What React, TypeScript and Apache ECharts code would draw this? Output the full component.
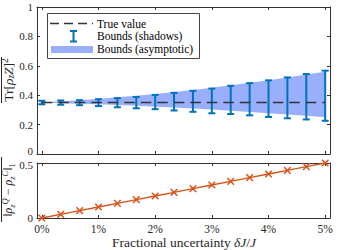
import React, { useEffect, useRef } from "react";
import * as echarts from "echarts";

// ---- data ----
const uncertaintyPct = [0, 0.333, 0.667, 1, 1.333, 1.667, 2, 2.333, 2.667, 3, 3.333, 3.667, 4, 4.333, 4.667, 5];
const trueValue = 0.35;
const shadowUpper = [0.362, 0.364, 0.366, 0.373, 0.38, 0.388, 0.402, 0.416, 0.43, 0.445, 0.464, 0.482, 0.501, 0.521, 0.544, 0.567];
const shadowLower = [0.338, 0.335, 0.332, 0.326, 0.318, 0.311, 0.305, 0.296, 0.287, 0.277, 0.272, 0.263, 0.252, 0.243, 0.235, 0.226];
const asymUpper = [0.35, 0.358, 0.366, 0.375, 0.386, 0.397, 0.409, 0.422, 0.436, 0.451, 0.467, 0.484, 0.501, 0.52, 0.54, 0.56];
const asymLower = [0.35, 0.346, 0.342, 0.338, 0.333, 0.328, 0.322, 0.316, 0.309, 0.302, 0.294, 0.286, 0.278, 0.269, 0.26, 0.25];
const traceDistance = [0, 0.033, 0.067, 0.1, 0.133, 0.167, 0.2, 0.233, 0.267, 0.3, 0.333, 0.367, 0.4, 0.433, 0.467, 0.5];
const xTickValues = [0, 1, 2, 3, 4, 5];
const legendLabels = ["True value", "Bounds (shadows)", "Bounds (asymptotic)"];

const FAMILY = "'Liberation Serif', 'Times New Roman', Times, serif";
const AXIS = "#333333";
const BLUE = "#0072BD";
const BAND = "#9aaffc";
const RED = "#D95319";
const TXT = "#262626";

export default function App() {
  const ref = useRef<HTMLDivElement>(null);

  useEffect(() => {
    const chart = echarts.init(ref.current!, undefined, { renderer: "svg" });

    const mkX = (gridIndex: number, position: string, labels: boolean) => ({
      type: "value",
      gridIndex,
      position,
      min: -0.085,
      max: 5.085,
      axisLine: { show: true, onZero: false, lineStyle: { color: AXIS, width: 1 } },
      axisTick: { show: true, inside: true, length: 3, customValues: xTickValues, lineStyle: { color: AXIS } },
      axisLabel: labels
        ? { show: true, customValues: xTickValues, formatter: (v: number) => `${v}%`, margin: 5, fontFamily: FAMILY, fontSize: 11.5, color: TXT }
        : { show: false },
      splitLine: { show: false },
    });
    // shiftValue / shift: nudge one crowded label (top plot's 0 up, bottom plot's 0.5 down)
    const mkY = (gridIndex: number, position: string, labels: boolean, max: number, interval: number, shiftValue: number, up: boolean) => ({
      type: "value",
      gridIndex,
      position,
      min: 0,
      max,
      interval,
      axisLine: { show: true, onZero: false, lineStyle: { color: AXIS, width: 1 } },
      axisTick: { show: true, inside: true, length: 3, lineStyle: { color: AXIS } },
      axisLabel: labels
        ? {
            show: true,
            margin: 4,
            fontFamily: FAMILY,
            fontSize: 11,
            color: TXT,
            formatter: (v: number) => (Math.abs(v - shiftValue) < 1e-9 ? `{m|${v}}` : `${v}`),
            rich: {
              m: { fontFamily: FAMILY, fontSize: 11, color: TXT, padding: up ? [0, 0, 6, 0] : [3, 0, 0, 0] },
            },
          }
        : { show: false },
      splitLine: { show: false },
    });

    const tok = (size: number, italic: boolean, va?: string) => ({
      fontFamily: FAMILY,
      fontSize: size,
      fontStyle: italic ? "italic" : "normal",
      fill: TXT,
      lineHeight: 16,
      ...(va ? { verticalAlign: va } : {}),
    });
    const mainRich = (size: number, small: number) => ({
      r: tok(size, false),
      i: tok(size, true),
      s: tok(small, true, "bottom"),
      sr: tok(small, false, "bottom"),
      p: tok(small, false, "top"),
      pi: tok(small, true, "top"),
    });

    const option: any = {
      animation: false,
      textStyle: { fontFamily: FAMILY },
      grid: [
        { left: 37, right: 12, top: 7, height: 147 },
        { left: 37, right: 12, top: 163, height: 55 },
      ],
      xAxis: [mkX(0, "bottom", false), mkX(0, "top", false), mkX(1, "bottom", true), mkX(1, "top", false)],
      yAxis: [
        mkY(0, "left", true, 1, 0.2, 0, true),
        mkY(0, "right", false, 1, 0.2, 0, true),
        mkY(1, "left", true, 0.5, 0.5, 0.5, false),
        mkY(1, "right", false, 0.5, 0.5, 0.5, false),
      ],
      series: [
        {
          // asymptotic bounds band
          type: "custom",
          xAxisIndex: 0,
          yAxisIndex: 0,
          silent: true,
          encode: { x: 0, y: [1, 2] },
          data: uncertaintyPct.map((x, i) => [x, asymLower[i], asymUpper[i]]),
          renderItem: (params: any, api: any) => {
            if (params.dataIndex !== 0) return null;
            const top = uncertaintyPct.map((x, i) => api.coord([x, asymUpper[i]]));
            const bot = uncertaintyPct.map((x, i) => api.coord([x, asymLower[i]])).reverse();
            return {
              type: "polygon",
              shape: { points: top.concat(bot) },
              style: { fill: BAND, stroke: "none" },
            };
          },
        },
        {
          // shadow bounds error bars
          type: "custom",
          xAxisIndex: 0,
          yAxisIndex: 0,
          silent: true,
          encode: { x: 0, y: [1, 2] },
          data: uncertaintyPct.map((x, i) => [x, shadowLower[i], shadowUpper[i]]),
          renderItem: (params: any, api: any) => {
            const x = api.value(0);
            const lo = api.coord([x, api.value(1)]);
            const hi = api.coord([x, api.value(2)]);
            const hw = 3.5;
            const st = { stroke: BLUE, lineWidth: 2 };
            return {
              type: "group",
              children: [
                { type: "line", shape: { x1: lo[0], y1: lo[1], x2: hi[0], y2: hi[1] }, style: st },
                { type: "line", shape: { x1: hi[0] - hw, y1: hi[1], x2: hi[0] + hw, y2: hi[1] }, style: st },
                { type: "line", shape: { x1: lo[0] - hw, y1: lo[1], x2: lo[0] + hw, y2: lo[1] }, style: st },
              ],
            };
          },
        },
        {
          type: "line",
          xAxisIndex: 0,
          yAxisIndex: 0,
          symbol: "none",
          silent: true,
          z: 3,
          lineStyle: { color: "#333333", width: 1.5, type: [10.5, 6] },
          data: uncertaintyPct.map((x) => [x, trueValue]),
        },
        {
          type: "line",
          xAxisIndex: 2,
          yAxisIndex: 2,
          symbol: "none",
          silent: true,
          lineStyle: { color: RED, width: 1.5 },
          data: uncertaintyPct.map((x, i) => [x, traceDistance[i]]),
        },
        {
          type: "custom",
          xAxisIndex: 2,
          yAxisIndex: 2,
          silent: true,
          encode: { x: 0, y: 1 },
          data: uncertaintyPct.map((x, i) => [x, traceDistance[i]]),
          renderItem: (params: any, api: any) => {
            const p = api.coord([api.value(0), api.value(1)]);
            const h = 3.3;
            const st = { stroke: RED, lineWidth: 1.5 };
            return {
              type: "group",
              children: [
                { type: "line", shape: { x1: p[0] - h, y1: p[1] - h, x2: p[0] + h, y2: p[1] + h }, style: st },
                { type: "line", shape: { x1: p[0] - h, y1: p[1] + h, x2: p[0] + h, y2: p[1] - h }, style: st },
              ],
            };
          },
        },
      ],
      graphic: [
        // legend
        { type: "rect", shape: { x: 47.5, y: 13.5, width: 152, height: 45 }, style: { fill: "#ffffff", stroke: "#444444", lineWidth: 1 }, z: 100 },
        { type: "line", shape: { x1: 50, y1: 23.5, x2: 93, y2: 23.5 }, style: { stroke: "#333333", lineWidth: 1.5, lineDash: [9, 5] }, z: 101 },
        { type: "line", shape: { x1: 73.5, y1: 31, x2: 73.5, y2: 41.5 }, style: { stroke: BLUE, lineWidth: 2 }, z: 101 },
        { type: "line", shape: { x1: 70, y1: 31, x2: 77, y2: 31 }, style: { stroke: BLUE, lineWidth: 2 }, z: 101 },
        { type: "line", shape: { x1: 70, y1: 41.5, x2: 77, y2: 41.5 }, style: { stroke: BLUE, lineWidth: 2 }, z: 101 },
        { type: "rect", shape: { x: 51, y: 46, width: 42, height: 7 }, style: { fill: BAND }, z: 101 },
        ...legendLabels.map((t, i) => ({
          type: "text",
          x: 97,
          y: 23.5 + i * 12.8,
          z: 101,
          style: {
            text: t,
            fontFamily: FAMILY,
            fontSize: 11.5,
            fill: "#000000",
            align: "left",
            verticalAlign: "middle",
          },
        })),
        // y-axis titles
        {
          type: "text",
          x: 8,
          y: 80,
          rotation: Math.PI / 2,
          style: {
            text: "{r|Tr[}{i|ρ}{s|z}{i|Z}{r|]}{p|2}",
            rich: mainRich(13.5, 9.5),
            align: "center",
            verticalAlign: "middle",
          },
        },
        { type: "line", shape: { x1: 1.5, y1: 57, x2: 1.5, y2: 103 }, style: { stroke: TXT, lineWidth: 1 } },
        {
          type: "text",
          x: 8,
          y: 190,
          rotation: Math.PI / 2,
          style: {
            text: "{r|‖}{i|ρ}{s|z}{pi|Q}{r| − }{i|ρ}{s|z}{pi|C}{r|‖}{sr|1}",
            rich: mainRich(12, 8.5),
            align: "center",
            verticalAlign: "middle",
          },
        },
        { type: "line", shape: { x1: 1.5, y1: 157, x2: 1.5, y2: 222 }, style: { stroke: TXT, lineWidth: 1 } },
        // x-axis title
        {
          type: "text",
          x: 184,
          y: 242,
          style: {
            text: "{r|Fractional uncertainty }{i|δJ}{r|/}{i|J}",
            rich: mainRich(13.5, 9.5),
            align: "center",
            verticalAlign: "middle",
          },
        },
      ],
    };

    chart.setOption(option);
    return () => chart.dispose();
  }, []);

  return <div ref={ref} style={{ position: "absolute", left: 0, top: 0, width: 342, height: 250 }} />;
}
